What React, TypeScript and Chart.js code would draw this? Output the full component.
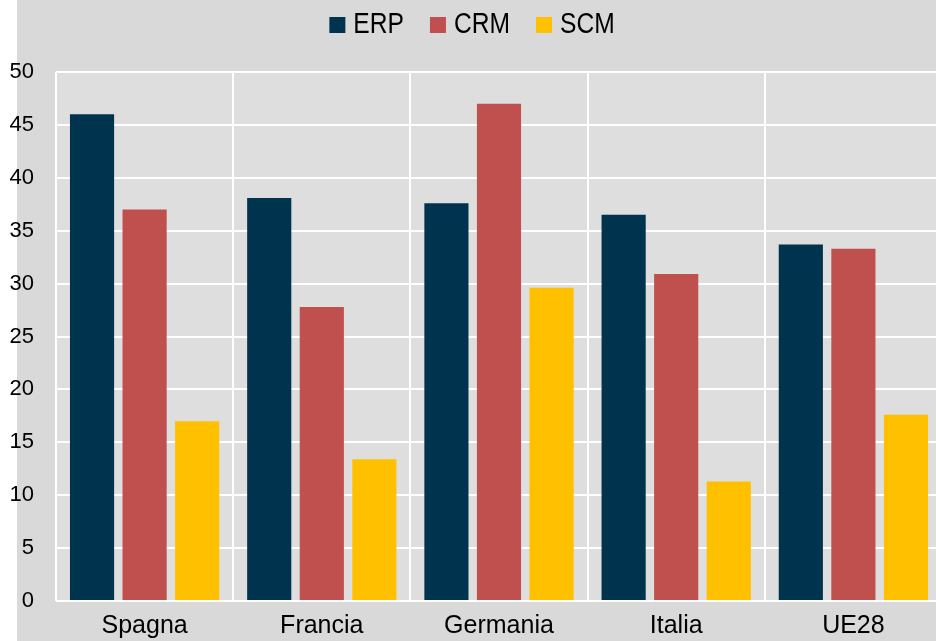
import React, { useEffect, useRef } from "react";
import { Chart, registerables } from "chart.js";

Chart.register(...registerables);

const categories = ["Spagna", "Francia", "Germania", "Italia", "UE28"];
const erpValues = [46, 38.1, 37.6, 36.5, 33.7];
const crmValues = [37, 27.8, 47, 30.9, 33.3];
const scmValues = [17, 13.4, 29.6, 11.3, 17.6];
const seriesNames = ["ERP", "CRM", "SCM"];
const seriesColors = ["#00334d", "#c0504d", "#ffc000"];
const yTicks = { min: 0, max: 50, step: 5 };

const FONT = "'Liberation Sans Narrow', 'Arial Narrow', 'Liberation Sans', Arial, sans-serif";

const backgroundPlugin = {
  id: "bgPlugin",
  beforeDraw(chart: any) {
    const { ctx, chartArea, width, height } = chart;
    ctx.save();
    ctx.fillStyle = "#ffffff";
    ctx.fillRect(0, 0, width, height);
    ctx.fillStyle = "#d9d9d9";
    ctx.fillRect(17, 0, width - 17, height);
    ctx.fillStyle = "#dedede";
    ctx.fillRect(chartArea.left, chartArea.top, chartArea.right - chartArea.left, chartArea.bottom - chartArea.top);
    ctx.restore();
  },
};

const legendPlugin = {
  id: "customLegend",
  afterDraw(chart: any) {
    const { ctx } = chart;
    const box = 16;
    const gap = 8;
    const spacing = 26;
    const centerX = 472;
    const midY = 25;
    const squeeze = 0.82;
    ctx.save();
    ctx.font = `30px ${FONT}`;
    const items = chart.data.datasets.map((ds: any) => ({
      label: ds.label,
      color: ds.backgroundColor,
      w: ctx.measureText(ds.label).width * squeeze,
    }));
    const total = items.reduce((s: number, it: any) => s + box + gap + it.w, 0) + spacing * (items.length - 1);
    let x = centerX - total / 2;
    ctx.textBaseline = "middle";
    ctx.textAlign = "left";
    items.forEach((it: any) => {
      ctx.fillStyle = it.color;
      ctx.fillRect(x, midY - box / 2, box, box);
      ctx.fillStyle = "#000000";
      ctx.save();
      ctx.translate(x + box + gap, midY);
      ctx.scale(squeeze, 1);
      ctx.fillText(it.label, 0, 0);
      ctx.restore();
      x += box + gap + it.w + spacing;
    });
    ctx.restore();
  },
};

export default function App() {
  const ref = useRef<HTMLCanvasElement | null>(null);
  useEffect(() => {
    if (!ref.current) return;
    const values = [erpValues, crmValues, scmValues];
    const chart = new Chart(ref.current, {
      type: "bar",
      data: {
        labels: categories,
        datasets: seriesNames.map((name, i) => ({
          label: name,
          data: values[i],
          backgroundColor: seriesColors[i],
          borderWidth: 0,
          barPercentage: 0.84,
          categoryPercentage: 0.89,
        })),
      },
      options: {
        animation: false,
        responsive: false,
        maintainAspectRatio: false,
        layout: { padding: { top: 72, left: 0, right: 0, bottom: 0 } },
        plugins: {
          legend: { display: false },
          tooltip: { enabled: false },
        },
        scales: {
          x: {
            afterFit(scale: any) {
              scale.height = 40;
            },
            grid: { color: "#ffffff", lineWidth: 2, drawTicks: false, offset: true },
            border: { display: false },
            ticks: { color: "#000000", font: { family: FONT, size: 25 }, padding: 10 },
          },
          y: {
            min: yTicks.min,
            max: yTicks.max,
            afterFit(scale: any) {
              scale.width = 56;
            },
            grid: { color: "#ffffff", lineWidth: 2, drawTicks: false },
            border: { display: false },
            ticks: { stepSize: yTicks.step, color: "#000000", font: { family: FONT, size: 22 }, padding: 22 },
          },
        },
      },
      plugins: [backgroundPlugin, legendPlugin],
    });
    return () => chart.destroy();
  }, []);
  return (
    <div style={{ position: "fixed", left: 0, top: 0, width: 936, height: 641, overflow: "hidden", background: "#fff" }}>
      <canvas ref={ref} width={942} height={641} style={{ display: "block", width: 942, height: 641 }} />
    </div>
  );
}
